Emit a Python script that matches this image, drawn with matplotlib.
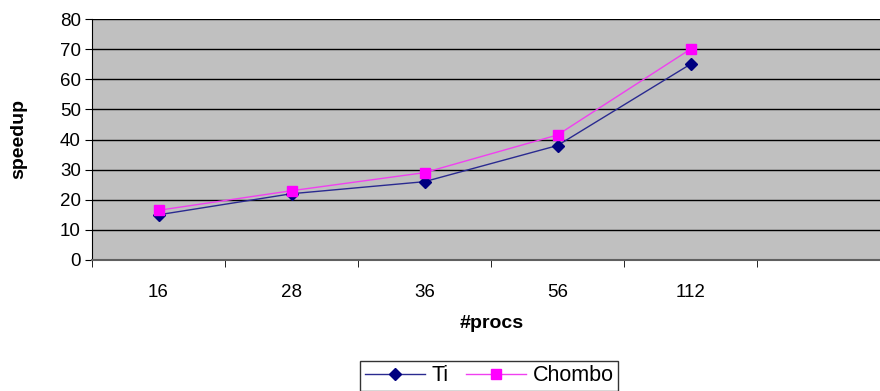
import matplotlib.pyplot as plt
import numpy as np

plt.rcParams['font.family'] = ['Liberation Sans', 'DejaVu Sans']

procs = ['16', '28', '36', '56', '112']
ti = [15, 22, 26, 38, 65]
chombo = [16.5, 23, 29, 41.5, 70]

W, H = 880, 391
fig = plt.figure(figsize=(W / 100, H / 100), dpi=100)
# plot area runs past the right edge of the image, as in the original
ax = fig.add_axes([92 / W, 1 - 260 / H, (890 - 92) / W, (260 - 19) / H])
ax.set_facecolor('#c0c0c0')

x = np.arange(len(procs))
ax.plot(x, ti, color='#2a2a90', lw=1, marker='D', ms=6, label='Ti',
        markerfacecolor='#000080', markeredgecolor='#000080')
ax.plot(x, chombo, color='#f040f0', lw=1, marker='s', ms=7, label='Chombo',
        markerfacecolor='#ff00ff', markeredgecolor='#ff00ff')

ax.set_xlim(-0.5, 5.5)
ax.set_ylim(0, 80)
ax.set_yticks(range(0, 81, 10))
ax.grid(axis='y', color='black', lw=1)
ax.set_axisbelow(True)

ax.set_xticks(x)
ax.set_xticklabels(procs, fontsize=13.5)
ax.set_xticks(np.arange(-0.5, 6, 1), minor=True)
ax.tick_params(axis='x', which='major', length=0, pad=17)
ax.tick_params(axis='x', which='minor', length=5, direction='out', color='black')
ax.tick_params(axis='y', length=5, labelsize=13.5, pad=3)

for s in ['top', 'right']:
    ax.spines[s].set_visible(False)
ax.spines['left'].set_color('black')
ax.spines['bottom'].set_color('#606060')
ax.spines['bottom'].set_linewidth(1.5)

fig.text(19 / W, 1 - 139 / H, 'speedup', rotation=90, fontsize=14,
         fontweight='bold', ha='center', va='center')
fig.text(492 / W, 1 - 324 / H, '#procs', fontsize=14,
         fontweight='bold', ha='center', va='center')

leg = fig.legend(loc='upper center', bbox_to_anchor=(489 / W, 1 - 361 / H),
                 ncol=2, fontsize=15.5, frameon=True, fancybox=False,
                 edgecolor='black', borderpad=0.2, handlelength=2.8,
                 columnspacing=0.8, handletextpad=0.3, borderaxespad=0)
leg.get_frame().set_linewidth(1)

fig.savefig('out.png', dpi=100)
